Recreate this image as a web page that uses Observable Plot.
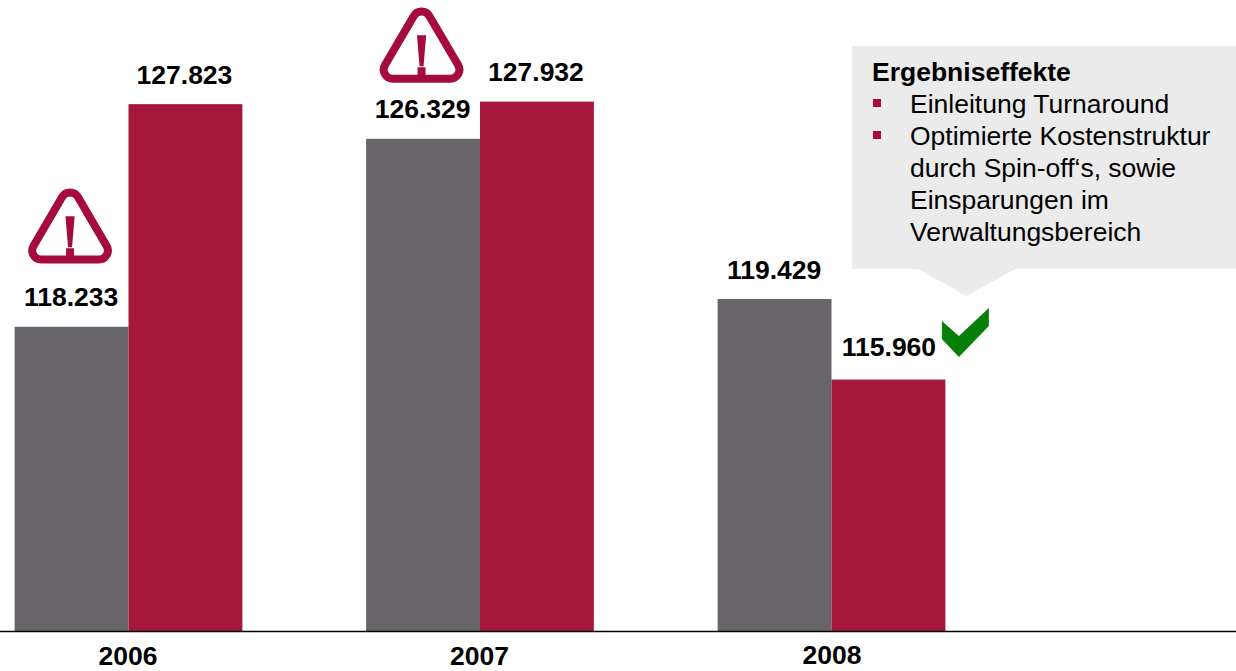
<!DOCTYPE html>
<html>
<head>
<meta charset="utf-8">
<script src="https://cdn.jsdelivr.net/npm/d3@7"></script>
<script src="https://cdn.jsdelivr.net/npm/@observablehq/plot@0.6"></script>
<style>
html,body{margin:0;padding:0;background:#fff}
svg{display:block}
</style>
</head>
<body>
<div id="chart"></div>
<script>
const years = [2006, 2007, 2008];
const greyValues = [118233, 126329, 119429];
const redValues = [127823, 127932, 115960];
const calloutTitle = "Ergebniseffekte";
const calloutBullets = [
  ["Einleitung Turnaround"],
  ["Optimierte Kostenstruktur", "durch Spin-off‘s, sowie", "Einsparungen im", "Verwaltungsbereich"]
];

const GREY = "#676569", RED = "#A6183B", ICON = "#A50A40", GREEN = "#078007";
const FONT = "'Liberation Sans', Arial, sans-serif";
const W = 0.324;
const fmt = v => d3.format(",")(v).replace(",", ".");
const grey = years.map((year, i) => ({year, value: greyValues[i]}));
const red = years.map((year, i) => ({year, value: redValues[i]}));

const warnSymbol = {draw(c) {
  const hw = 44.5, top = -42.7, b = 33.3, r = 9;
  c.moveTo(0, b);
  c.arcTo(hw, b, 0, top, r);
  c.arcTo(0, top, -hw, b, r);
  c.arcTo(-hw, b, 0, b, r);
  c.closePath();
}};
const bangSymbol = {draw(c) {
  c.moveTo(-4.6, -10); c.lineTo(4.6, -10); c.lineTo(2, 21); c.lineTo(-2, 21); c.closePath();
  c.rect(-4, 22, 8, 8);
}};
const checkSymbol = {draw(c) {
  c.moveTo(-23.5, -13); c.lineTo(-6.5, 2); c.lineTo(23.5, -26); c.lineTo(23.5, -8);
  c.lineTo(-6.5, 23); c.lineTo(-23.5, 5); c.closePath();
}};

function callout() {
  const g = d3.create("svg:g").attr("text-anchor", "start");
  g.append("path").attr("fill", "#EBEBEB")
    .attr("d", "M852,46H1236V269H1015L966.500,296L918,269H852Z");
  g.append("text").attr("x", 872).attr("y", 80.500)
    .attr("font-family", FONT).attr("font-size", 26.500).attr("font-weight", "bold").attr("fill", "#000")
    .text(calloutTitle);
  let line = 0;
  for (const bullet of calloutBullets) {
    g.append("rect").attr("x", 873).attr("y", 99 + line * 32).attr("width", 8).attr("height", 8).attr("fill", ICON);
    for (const t of bullet) {
      g.append("text").attr("x", 910).attr("y", 113 + line * 32)
        .attr("font-family", FONT).attr("font-size", 26.500).attr("fill", "#000").text(t);
      line++;
    }
  }
  return g.node();
}

const labelOpts = {fontFamily: FONT, fontSize: 26.5, fontWeight: "bold", fill: "#000"};
const warnAt = (d, dy) => [
  Plot.dot([d], {x: v => v.year - W / 2, y: "value", dx: -2, dy, symbol: warnSymbol, fill: "none", stroke: ICON, strokeWidth: 8}),
  Plot.dot([d], {x: v => v.year - W / 2, y: "value", dx: -2, dy, symbol: bangSymbol, fill: ICON, stroke: "none"})
];

const chart = Plot.plot({
  width: 1236, height: 671,
  marginTop: 0, marginBottom: 40, marginLeft: 0, marginRight: 0,
  style: {background: "#fff"},
  x: {type: "linear", domain: [2006, 2008], range: [128.5, 831.5], axis: null},
  y: {domain: [105128, 132310], axis: null},
  marks: [
    Plot.rectY(grey, {x1: d => d.year - W, x2: "year", y1: 105128, y2: "value", fill: GREY}),
    Plot.rectY(red, {x1: "year", x2: d => d.year + W, y1: 105128, y2: "value", fill: RED}),
    Plot.ruleY([105128], {stroke: "#000", strokeWidth: 1.5}),
    Plot.text(grey, {x: d => d.year - W / 2, y: "value", text: d => fmt(d.value), dy: -29.5, dx: -1, ...labelOpts}),
    Plot.text(red.slice(0, 2), {x: d => d.year + W / 2, y: "value", text: d => fmt(d.value), dy: -29.5, dx: -1.5, ...labelOpts}),
    Plot.text(red.slice(2), {x: d => d.year + W / 2, y: "value", text: d => fmt(d.value), dy: -33, ...labelOpts}),
    Plot.text(years.slice(0, 2), {x: d => d, frameAnchor: "bottom", text: d => String(d), dy: 25.5, dx: -1, lineAnchor: "middle", ...labelOpts}),
    Plot.text(years.slice(2), {x: d => d, frameAnchor: "bottom", text: d => String(d), dy: 24.5, lineAnchor: "middle", ...labelOpts}),
    ...warnAt(grey[0], -101),
    ...warnAt(grey[1], -94),
    callout,
    Plot.dot([red[2]], {x: d => d.year + W, y: "value", dx: 19.5, dy: -46, symbol: checkSymbol, fill: GREEN, stroke: "none"})
  ]
});
document.getElementById("chart").append(chart);
</script>
</body>
</html>
